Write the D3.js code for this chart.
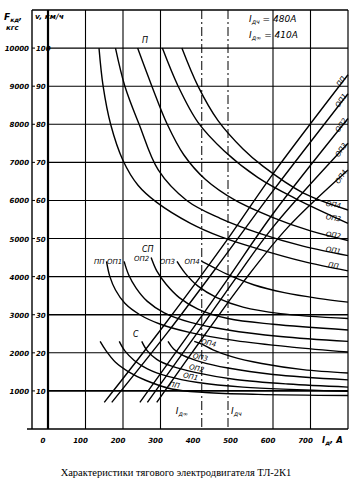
<!DOCTYPE html>
<html>
<head>
<meta charset="utf-8">
<script src="https://d3js.org/d3.v7.min.js"></script>
<style>
  body { margin: 0; background: #fff; }
  text { font-family: "DejaVu Sans", sans-serif; font-style: italic; fill: #000; }
  .tick { font-weight: bold; }
  .title { font-family: "Liberation Serif", serif; font-style: normal; }
</style>
</head>
<body>
<div id="chart"></div>
<script>
// оси
const currentTicks = [0, 100, 200, 300, 400, 500, 600, 700];
const currentGrid = [100, 200, 300, 600, 700];
const forceTicks = [1000, 2000, 3000, 4000, 5000, 6000, 7000, 8000, 9000, 10000];
const speedTicks = [10, 20, 30, 40, 50, 60, 70, 80, 90, 100];
const curveNames = ["ПП", "ОП1", "ОП2", "ОП3", "ОП4"];
const ratedCurrents = [410, 480]; // I_д∞, I_дч

// скоростные характеристики v(I), [ток А, скорость км/ч]
const speedP = [
  [[136,100],[147,90],[167,80],[200,70.5],[240,64],[290,59.5],[380,54],[460,50.5],[560,47.3],[680,44],[800,41.5]],
  [[180,100],[205,90],[243,80],[294,68],[370,60],[459,55.3],[560,51.5],[680,48],[800,45.5]],
  [[239,100],[277,90],[318,80],[362,72],[420,65.5],[500,60],[600,55.5],[700,52],[800,49.5]],
  [[305,100],[347,90],[400,80.5],[470,73],[560,66],[660,60.5],[800,54]],
  [[357,100],[400,90],[453,81],[520,73.5],[573,69],[680,62],[800,57.5]]
];
const speedSP = [
  [[156,44],[165,40],[180,36.5],[205,33],[245,30],[300,27.5],[380,25.3],[500,23.2],[650,21.5],[800,20.2]],
  [[203,44],[215,40.5],[235,37],[265,33.5],[310,30.5],[380,28],[480,26],[620,24.3],[800,23]],
  [[275,45],[290,41.5],[315,38],[350,34.5],[400,31.5],[480,29],[600,27.5],[800,26]],
  [[344,44],[365,41],[400,37.5],[450,34.5],[520,32],[620,30.3],[800,29]],
  [[410,44],[440,42.5],[480,40.5],[550,37.8],[630,35.8],[720,34.3],[800,33.3]]
];
const speedS = [
  [[139,23],[155,20.5],[180,17.5],[215,15],[260,12.8],[330,10.5],[420,9.6],[560,9.1],[800,8.8]],
  [[190,23],[205,20.5],[230,18],[265,15.8],[320,13.8],[400,12.2],[520,11],[800,9.9]],
  [[250,23],[265,20.5],[290,18.3],[330,16.5],[395,14.8],[500,13],[640,11.8],[800,11]],
  [[320,23],[335,21],[360,19.3],[405,17.7],[480,16],[600,14.3],[800,12.9]],
  [[390,23],[410,22.3],[440,20.8],[490,19],[570,17.2],[680,15.6],[800,14.7]]
];
// сила тяги F(I), [ток А, сила кгс]
const forceCurves = [
  [[150,700],[300,2600],[480,5000],[600,6700],[800,9300]],
  [[170,700],[320,2550],[480,4650],[600,6250],[800,8800]],
  [[245,700],[380,2550],[480,3950],[600,5650],[800,8150]],
  [[265,700],[400,2550],[500,3950],[600,5300],[800,7500]],
  [[290,700],[420,2500],[520,3850],[640,5300],[800,6800]]
];

const W = 353, H = 483;
const svg = d3.select("#chart").append("svg")
  .attr("width", W).attr("height", H)
  .style("background", "#fff");

const x = d3.scaleLinear().domain([0, 800]).range([48, 348]);
const yF = d3.scaleLinear().domain([0, 11000]).range([429, 10]);
const yV = d3.scaleLinear().domain([0, 110]).range([429, 10]);

// сетка
svg.append("g").selectAll("line").data(forceTicks).join("line")
  .attr("x1", x(0)).attr("x2", x(800))
  .attr("y1", d => yF(d)).attr("y2", d => yF(d))
  .attr("stroke", "#000")
  .attr("stroke-width", d => (d === 1000 || d === 3000) ? 1.6 : 1.1);

svg.append("g").selectAll("line").data(currentGrid).join("line")
  .attr("x1", d => x(d)).attr("x2", d => x(d))
  .attr("y1", yF(11000)).attr("y2", yF(0))
  .attr("stroke", "#000").attr("stroke-width", 1.1);

svg.append("g").selectAll("line").data(ratedCurrents).join("line")
  .attr("x1", d => x(d)).attr("x2", d => x(d))
  .attr("y1", yF(11000)).attr("y2", yF(0))
  .attr("stroke", "#000").attr("stroke-width", 1)
  .attr("stroke-dasharray", "9,3,2,3");

// рамка
svg.append("line").attr("x1", 32).attr("x2", x(800)).attr("y1", yF(11000)).attr("y2", yF(11000))
  .attr("stroke", "#000").attr("stroke-width", 1.4);
svg.append("line").attr("x1", x(800)).attr("x2", x(800)).attr("y1", yF(11000)).attr("y2", yF(0))
  .attr("stroke", "#000").attr("stroke-width", 1.2);
svg.append("line").attr("x1", x(0)).attr("x2", x(0)).attr("y1", yF(11000)).attr("y2", yF(0))
  .attr("stroke", "#000").attr("stroke-width", 2.2);
svg.append("line").attr("x1", 32).attr("x2", 32).attr("y1", yF(11000)).attr("y2", yF(0))
  .attr("stroke", "#000").attr("stroke-width", 1.4);
svg.append("line").attr("x1", 27).attr("x2", x(800)).attr("y1", yF(0)).attr("y2", yF(0))
  .attr("stroke", "#000").attr("stroke-width", 1.6);

// подписи осей
svg.append("g").selectAll("text").data(forceTicks).join("text")
  .attr("class", "tick")
  .attr("x", 29).attr("y", d => yF(d) + 3)
  .attr("text-anchor", "end").attr("font-size", 7)
  .text(d => d);
svg.append("g").selectAll("line").data(speedTicks).join("line")
  .attr("x1", 32).attr("x2", 35)
  .attr("y1", d => yV(d)).attr("y2", d => yV(d))
  .attr("stroke", "#000");
svg.append("g").selectAll("text").data(speedTicks).join("text")
  .attr("class", "tick")
  .attr("x", 36).attr("y", d => yV(d) + 3)
  .attr("font-size", 7)
  .text(d => d);
svg.append("g").selectAll("text").data(currentTicks).join("text")
  .attr("class", "tick")
  .attr("x", d => x(d) - 5).attr("y", 443)
  .attr("text-anchor", "middle").attr("font-size", 7)
  .text(d => d);

const fLab = svg.append("text").attr("class", "tick").attr("x", 4).attr("y", 20).attr("font-size", 9);
fLab.append("tspan").text("F");
fLab.append("tspan").attr("font-size", 6).attr("dy", 2).text("кд");
fLab.append("tspan").attr("font-size", 8).attr("dy", -2).text(",");
svg.append("text").attr("class", "tick").attr("x", 6).attr("y", 30).attr("font-size", 7).text("кгс");
svg.append("text").attr("class", "tick").attr("x", 35).attr("y", 19).attr("font-size", 7.5).text("v, км/ч");

const iLab = svg.append("text").attr("class", "tick").attr("x", 322).attr("y", 443).attr("font-size", 8.5);
iLab.append("tspan").text("I");
iLab.append("tspan").attr("font-size", 6).attr("dy", 2).text("д");
iLab.append("tspan").attr("dy", -2).text(", А");

// легенда номинальных токов
function subLabel(px, py, sub, tail, size) {
  const t = svg.append("text").attr("x", px).attr("y", py).attr("font-size", size);
  t.append("tspan").text("I");
  t.append("tspan").attr("font-size", size * 0.7).attr("dy", 2).text(sub);
  if (tail) t.append("tspan").attr("dy", -2).text(tail);
}
subLabel(249, 22, "дч", " = 480А", 9);
subLabel(249, 38, "д∞", " = 410А", 9);
subLabel(x(410) - 26, 414, "д∞", "", 9);
subLabel(x(480) + 3, 414, "дч", "", 9);

// кривые
const lineV = d3.line().x(d => x(d[0])).y(d => yV(d[1])).curve(d3.curveCatmullRom.alpha(0.5));
const lineF = d3.line().x(d => x(d[0])).y(d => yF(d[1])).curve(d3.curveCatmullRom.alpha(0.5));

[speedP, speedSP, speedS].forEach(group => {
  svg.append("g").selectAll("path").data(group).join("path")
    .attr("d", lineV).attr("fill", "none")
    .attr("stroke", "#000").attr("stroke-width", 1.4);
});
svg.append("g").selectAll("path").data(forceCurves).join("path")
  .attr("d", lineF).attr("fill", "none")
  .attr("stroke", "#000").attr("stroke-width", 1.4);

// значение кривой при заданном токе
function valueAt(c, I) {
  for (let k = 1; k < c.length; k++) {
    if (c[k][0] >= I) {
      const t = (I - c[k - 1][0]) / (c[k][0] - c[k - 1][0]);
      return c[k - 1][1] + t * (c[k][1] - c[k - 1][1]);
    }
  }
  return c[c.length - 1][1];
}

// подписи кривых
const labelSize = 7;
speedP.forEach((c, i) => {
  const p = c[c.length - 1];
  svg.append("text")
    .attr("transform", `translate(${x(p[0]) - 15},${yV(p[1]) - 3}) rotate(10)`)
    .attr("font-size", labelSize).attr("text-anchor", "middle")
    .text(curveNames[i]);
});
speedSP.forEach((c, i) => {
  const p = c[0];
  svg.append("text")
    .attr("x", x(p[0]) - 2).attr("y", yV(p[1]) + 3)
    .attr("font-size", labelSize).attr("text-anchor", "end")
    .text(curveNames[i]);
});
const sLabelAt = [336, 379, 395, 405, 427];
speedS.forEach((c, i) => {
  const I = sLabelAt[i];
  svg.append("text")
    .attr("transform", `translate(${x(I)},${yV(valueAt(c, I)) - 2}) rotate(12)`)
    .attr("font-size", labelSize).attr("text-anchor", "middle")
    .text(curveNames[i]);
});
forceCurves.forEach((c, i) => {
  const p = c[c.length - 1];
  svg.append("text")
    .attr("transform", `translate(${x(p[0]) - 5},${yF(p[1]) + 8}) rotate(-55)`)
    .attr("font-size", labelSize).attr("text-anchor", "middle")
    .text(curveNames[i]);
});

svg.append("text").attr("x", 142).attr("y", 43).attr("font-size", 8).text("П");
svg.append("text").attr("x", 142).attr("y", 252).attr("font-size", 8).text("СП");
svg.append("text").attr("x", 133).attr("y", 337).attr("font-size", 8).text("С");

svg.append("text").attr("class", "title")
  .attr("x", 176).attr("y", 476).attr("text-anchor", "middle")
  .attr("font-size", 10.5)
  .text("Характеристики тягового электродвигателя ТЛ-2К1");
</script>
</body>
</html>
